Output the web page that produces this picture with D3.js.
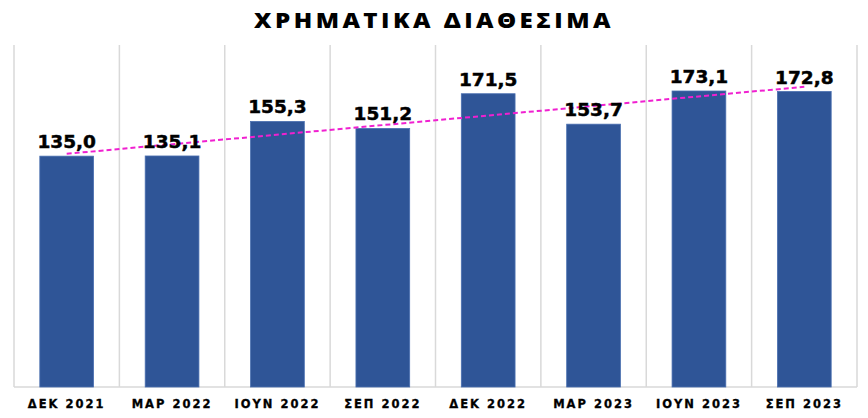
<!DOCTYPE html>
<html>
<head>
<meta charset="utf-8">
<script src="https://cdn.jsdelivr.net/npm/d3@7"></script>
<style>
  html, body { margin: 0; padding: 0; background: #ffffff; }
  svg { display: block; }
</style>
</head>
<body>
<svg id="chart" width="868" height="418"></svg>
<script>
const title = "ΧΡΗΜΑΤΙΚΑ ΔΙΑΘΕΣΙΜΑ";
const categories = ["ΔΕΚ 2021", "ΜΑΡ 2022", "ΙΟΥΝ 2022", "ΣΕΠ 2022", "ΔΕΚ 2022", "ΜΑΡ 2023", "ΙΟΥΝ 2023", "ΣΕΠ 2023"];
const values = [135.0, 135.1, 155.3, 151.2, 171.5, 153.7, 173.1, 172.8];
const yDomain = [0, 200];

const svg = d3.select("#chart");
const W = 868, H = 418;
const plot = { left: 14, right: 857, top: 45, bottom: 387 };

const x = d3.scaleBand()
  .domain(categories)
  .range([plot.left, plot.right])
  .paddingInner(0.49)
  .paddingOuter(0.245);
const y = d3.scaleLinear().domain(yDomain).range([plot.bottom, plot.top]);

const fmt = v => d3.format(".1f")(v).replace(".", ",");

// vertical gridlines at category boundaries
const bounds = d3.range(categories.length + 1).map(i => plot.left + i * x.step());
svg.append("g").selectAll("line").data(bounds).join("line")
  .attr("x1", d => d).attr("x2", d => d)
  .attr("y1", plot.top).attr("y2", plot.bottom)
  .attr("stroke", "#d9d9d9").attr("stroke-width", 1.5);

// baseline
svg.append("line")
  .attr("x1", plot.left).attr("x2", plot.right)
  .attr("y1", plot.bottom).attr("y2", plot.bottom)
  .attr("stroke", "#d9d9d9").attr("stroke-width", 1.5);

// bars
svg.append("g").selectAll("rect").data(values).join("rect")
  .attr("x", (d, i) => x(categories[i]))
  .attr("width", x.bandwidth())
  .attr("y", d => y(d))
  .attr("height", d => y(0) - y(d))
  .attr("fill", "#2f5597")
  .attr("stroke", "#4a6fb0")
  .attr("stroke-width", 0.8);

// linear trendline
const n = values.length;
const xs = d3.range(1, n + 1);
const mx = d3.mean(xs), my = d3.mean(values);
const slope = d3.sum(xs, (xi, i) => (xi - mx) * (values[i] - my)) / d3.sum(xs, xi => (xi - mx) ** 2);
const icpt = my - slope * mx;
const cx = i => x(categories[i]) + x.bandwidth() / 2;
svg.append("line")
  .attr("x1", cx(0)).attr("y1", y(icpt + slope * 1))
  .attr("x2", cx(n - 1)).attr("y2", y(icpt + slope * n))
  .attr("stroke", "#f020d0").attr("stroke-width", 2)
  .attr("stroke-dasharray", "5,3");

// value labels
svg.append("g").selectAll("text").data(values).join("text")
  .attr("x", (d, i) => cx(i))
  .attr("y", d => y(d) - 8)
  .attr("text-anchor", "middle")
  .attr("font-family", "DejaVu Sans")
  .attr("font-weight", "bold")
  .attr("font-size", 18.5)
  .attr("fill", "#000")
  .attr("stroke", "#000")
  .attr("stroke-width", 0.5)
  .text(d => fmt(d));

// category labels
svg.append("g").selectAll("text").data(categories).join("text")
  .attr("x", d => x(d) + x.bandwidth() / 2)
  .attr("y", 408)
  .attr("text-anchor", "middle")
  .attr("font-family", "DejaVu Sans")
  .attr("font-weight", "bold")
  .attr("font-size", 11.5)
  .attr("letter-spacing", 2)
  .attr("fill", "#000")
  .attr("stroke", "#000")
  .attr("stroke-width", 0.3)
  .text(d => d);

// title
svg.append("text")
  .attr("transform", `translate(${W / 2},28) scale(1.15,1)`)
  .attr("text-anchor", "middle")
  .attr("font-family", "Open Sans")
  .attr("font-weight", 800)
  .attr("font-size", 21)
  .attr("letter-spacing", 3)
  .attr("fill", "#000")
  .text(title);
</script>
</body>
</html>
